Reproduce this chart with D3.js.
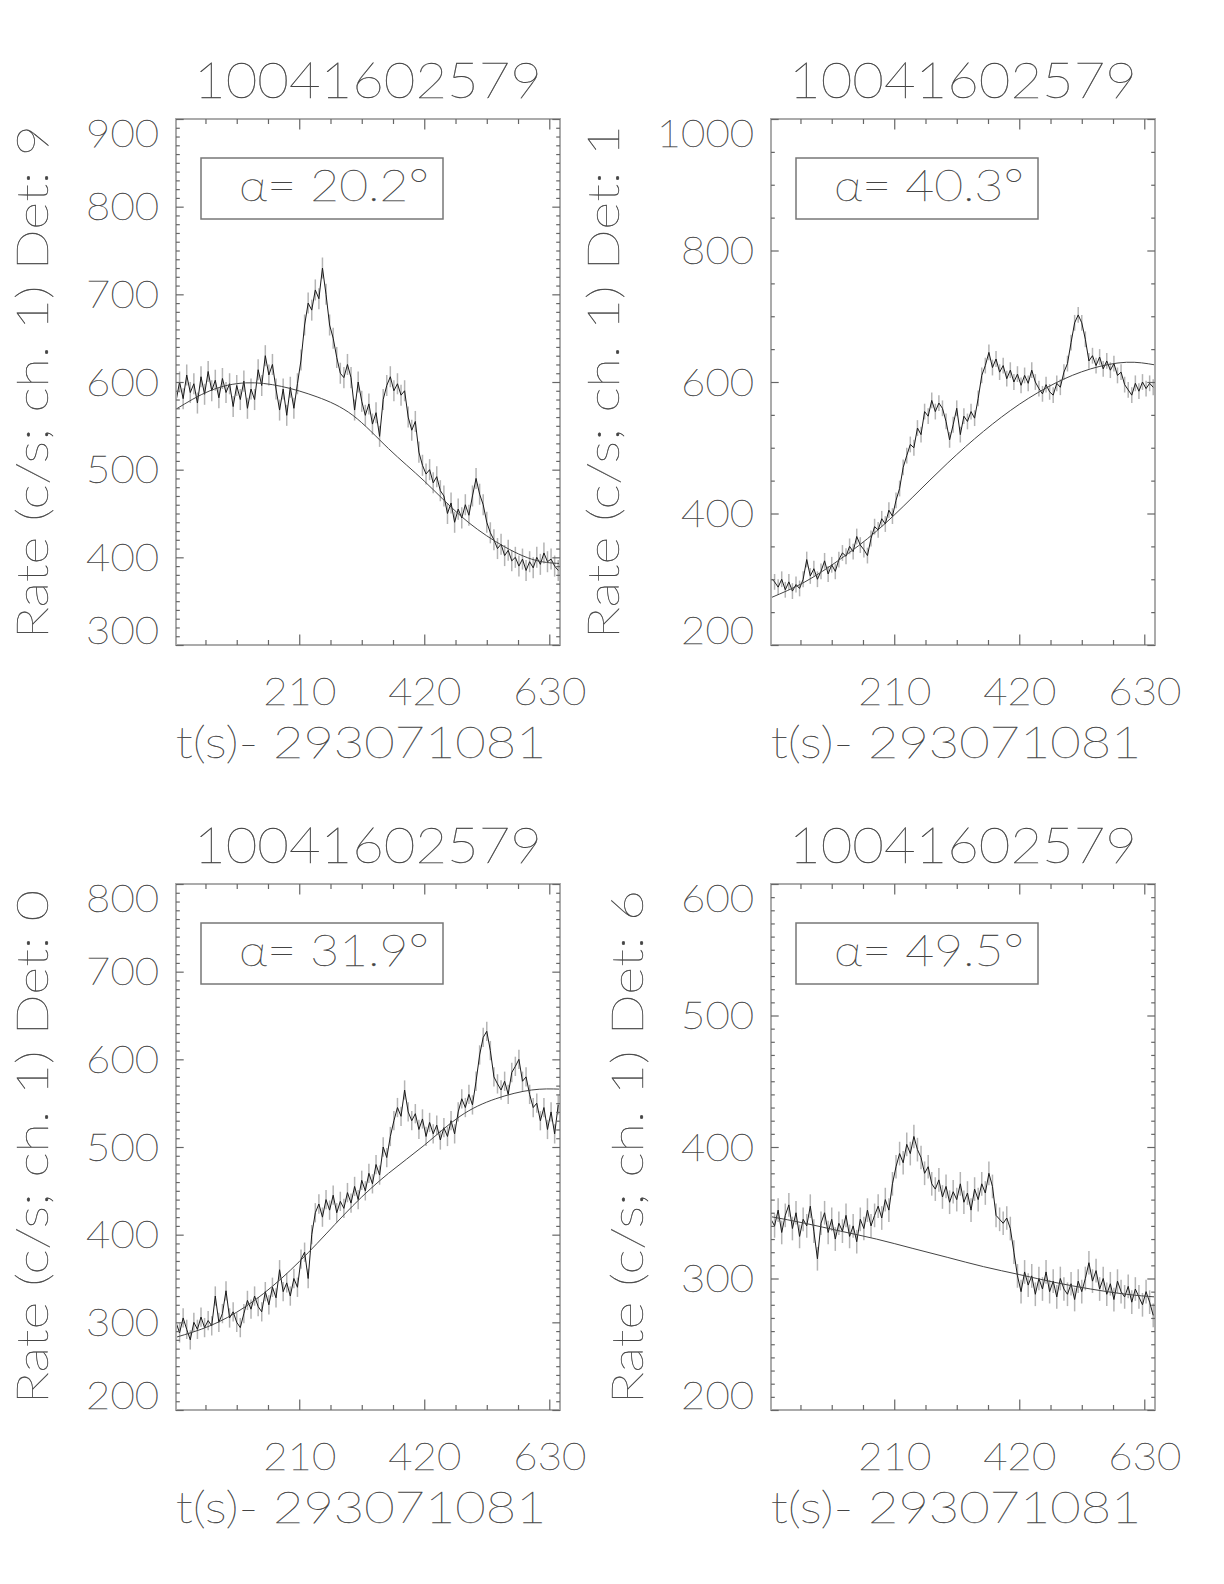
<!DOCTYPE html>
<html>
<head>
<meta charset="utf-8">
<script src="https://cdn.jsdelivr.net/npm/d3@7"></script>
<style>
  body { margin: 0; background: #fff; }
  svg { -webkit-font-smoothing: antialiased; }
  text { font-family: "Lato", "Roboto", "Inter", sans-serif; font-weight: 200; fill: #444; stroke: #444; stroke-width: 0.35px; }
</style>
</head>
<body>
<script>
// ---- data ----
var obsId = "10041602579";
var tRef = "293071081";
var detNames = ["9", "1", "0", "6"];
var alphaDeg = ["20.2", "40.3", "31.9", "49.5"];
var yDomains = [[300, 900], [200, 1000], [200, 800], [200, 600]];
var yMajorStep = [100, 200, 100, 100];
var yMinorStep = [10, 50, 10, 10];
var xDomain = [3, 648];
var xMajorTicks = [210, 420, 630];
var xMinorTicks = [52.5, 105, 157.5, 262.5, 315, 367.5, 472.5, 525, 577.5];

// 6 s bins, centres 3 .. 645
var tBin = d3.range(3, 648, 6);

var rate9 = [578, 600, 581, 608, 588, 598, 576, 606, 586, 612, 590, 602,
  582, 604, 588, 598, 572, 596, 580, 601, 570, 592, 580, 614,
  596, 630, 608, 620, 592, 568, 592, 562, 594, 570, 598, 625,
  665, 690, 682, 705, 695, 730, 700, 665, 650, 628, 610, 605,
  620, 605, 568, 600, 578, 562, 575, 552, 565, 538, 580, 596,
  606, 590, 598, 585, 590, 560, 545, 555, 520, 505, 495, 500,
  485, 492, 476, 470, 450, 462, 440, 455, 445, 460, 448, 470,
  490, 472, 460, 440, 428, 420, 410, 415, 402, 408, 396, 400,
  390, 398, 385, 395, 388, 400, 392, 405, 395, 398, 390, 385];

var rate1 = [302, 296, 288, 300, 284, 296, 282, 292, 286, 300, 330, 305,
  316, 300, 312, 328, 308, 322, 312, 330, 340, 335, 350, 342,
  365, 352, 345, 336, 362, 380, 375, 392, 384, 405, 396, 420,
  438, 470, 488, 505, 500, 530, 520, 555, 548, 572, 555, 568,
  560, 540, 512, 535, 560, 520, 548, 540, 555, 545, 575, 610,
  625, 645, 622, 635, 615, 625, 605, 618, 600, 612, 595, 610,
  598, 618, 600, 590, 582, 596, 585, 580, 598, 592, 615, 628,
  660, 690, 702, 690, 665, 632, 640, 625, 638, 620, 632, 618,
  628, 610, 615, 596, 588, 580, 598, 586, 600, 590, 598, 592];

var rate0 = [300, 288, 305, 292, 280, 300, 292, 306, 294, 302, 296, 330,
  300, 310, 336, 305, 312, 300, 294, 310, 325, 315, 330, 318,
  312, 335, 320, 340, 328, 360, 335, 345, 330, 350, 340, 372,
  380, 350, 400, 425, 435, 420, 440, 428, 445, 425, 438, 430,
  448, 436, 455, 440, 462, 450, 470, 458, 480, 468, 500, 488,
  512, 530, 545, 535, 565, 540, 530, 538, 520, 532, 512, 528,
  515, 525, 508, 522, 512, 530, 515, 540, 555, 545, 560, 548,
  575, 605, 625, 632, 610, 580, 572, 565, 575, 560, 585, 592,
  600, 575, 580, 560, 545, 550, 530, 545, 520, 540, 515, 548];

var rate6 = [345, 340, 352, 335, 348, 356, 338, 350, 332, 345, 340, 355,
  336, 315, 342, 350, 335, 345, 330, 342, 336, 348, 332, 340,
  328, 345, 338, 352, 340, 348, 355, 346, 360, 352, 372, 385,
  395, 388, 402, 395, 408, 398, 392, 380, 385, 372, 368, 375,
  362, 370, 358, 366, 360, 372, 358, 365, 352, 368, 360, 372,
  365, 380, 370, 348, 345, 342, 346, 338, 320, 302, 290, 305,
  295, 302, 288, 300, 292, 305, 290, 298, 286, 300, 292, 288,
  296, 284, 298, 290, 300, 312, 298, 306, 292, 300, 288, 296,
  284, 298, 290, 286, 294, 282, 292, 286, 280, 290, 282, 272];

var rateErr = [12, 12, 11, 9];

// fitted modulation curve, read at a few times
var modelT = [3, 60, 120, 180, 240, 300, 360, 420, 480, 540, 600, 648];
var model9 = [569, 590, 599, 595, 583, 562, 524, 487, 448, 418, 398, 393];
var model1 = [272, 296, 331, 373, 424, 477, 525, 566, 598, 620, 630, 626];
var model0 = [283, 296, 318, 350, 390, 433, 470, 502, 535, 555, 565, 566];
var model6 = [347, 342, 336, 330, 323, 316, 309, 303, 297, 292, 288, 286];

var rates = [rate9, rate1, rate0, rate6];
var models = [model9, model1, model0, model6];

// ---- layout ----
var plotW = 384, plotH = 526;
var panelLeft = [176, 771, 176, 771];
var panelTop = [119, 119, 884, 884];
var charW = 24.3;

var svg = d3.select("body").append("svg")
    .attr("width", 1224)
    .attr("height", 1584);

rates.forEach(function (rate, p) {
    var g = svg.append("g")
        .attr("transform", "translate(" + panelLeft[p] + "," + panelTop[p] + ")");

    var x = d3.scaleLinear().domain(xDomain).range([0, plotW]);
    var y = d3.scaleLinear().domain(yDomains[p]).range([plotH, 0]);

    var yMajors = d3.range(yDomains[p][0], yDomains[p][1] + 1, yMajorStep[p]);
    var yMinors = d3.range(yDomains[p][0], yDomains[p][1], yMinorStep[p])
        .filter(function (v) { return v % yMajorStep[p] !== 0; });

    g.append("clipPath").attr("id", "clip" + p)
        .append("rect").attr("width", plotW).attr("height", plotH);

    // error bars
    g.append("g").attr("clip-path", "url(#clip" + p + ")")
        .selectAll("line")
        .data(rate)
        .join("line")
        .attr("x1", function (d, i) { return x(tBin[i]); })
        .attr("x2", function (d, i) { return x(tBin[i]); })
        .attr("y1", function (d) { return y(d - rateErr[p]); })
        .attr("y2", function (d) { return y(d + rateErr[p]); })
        .attr("stroke", "#b4b4b4")
        .attr("stroke-width", 1.5);

    // light curve
    g.append("path")
        .attr("clip-path", "url(#clip" + p + ")")
        .datum(rate)
        .attr("fill", "none")
        .attr("stroke", "#1a1a1a")
        .attr("stroke-width", 1)
        .attr("d", d3.line()
            .x(function (d, i) { return x(tBin[i]); })
            .y(function (d) { return y(d); }));

    // model curve
    g.append("path")
        .attr("clip-path", "url(#clip" + p + ")")
        .datum(models[p])
        .attr("fill", "none")
        .attr("stroke", "#444")
        .attr("stroke-width", 1)
        .attr("d", d3.line()
            .curve(d3.curveNatural)
            .x(function (d, i) { return x(modelT[i]); })
            .y(function (d) { return y(d); }));

    // frame
    g.append("rect")
        .attr("width", plotW).attr("height", plotH)
        .attr("fill", "none")
        .attr("stroke", "#ababab")
        .attr("stroke-width", 2);

    // ticks on all four sides, pointing inward
    function ticks(axis, vals, size, tr) {
        var a = g.append("g").attr("transform", tr || null)
            .call(axis.tickValues(vals).tickSize(-size).tickFormat(""));
        a.select(".domain").remove();
        a.selectAll("line").attr("stroke", "#666").attr("stroke-width", 1.2);
        return a;
    }
    ticks(d3.axisBottom(x), xMajorTicks, 10.5, "translate(0," + plotH + ")");
    ticks(d3.axisBottom(x), xMinorTicks, 5, "translate(0," + plotH + ")");
    ticks(d3.axisTop(x), xMajorTicks, 10.5);
    ticks(d3.axisTop(x), xMinorTicks, 5);
    ticks(d3.axisLeft(y), yMajors, 7.7);
    ticks(d3.axisLeft(y), yMinors, 3.8);
    ticks(d3.axisRight(y), yMajors, 7.7, "translate(" + plotW + ",0)");
    ticks(d3.axisRight(y), yMinors, 3.8, "translate(" + plotW + ",0)");

    // y tick labels (end labels kept inside the frame height, as IDL does)
    var yl = g.append("g")
        .call(d3.axisLeft(y).tickValues(yMajors).tickSize(0).tickPadding(17)
            .tickFormat(d3.format("d")));
    yl.select(".domain").remove();
    yl.selectAll("text")
        .attr("font-size", 37)
        .attr("dy", "0.36em")
        .attr("y", function (d) {
            var c = Math.min(Math.max(y(d), 14), plotH - 15);
            return c - y(d);
        })
        .attr("textLength", function (d) { return String(d).length * charW; })
        .attr("lengthAdjust", "spacingAndGlyphs");

    // x tick labels
    var xl = g.append("g").attr("transform", "translate(0," + plotH + ")")
        .call(d3.axisBottom(x).tickValues(xMajorTicks).tickSize(0)
            .tickFormat(d3.format("d")));
    xl.select(".domain").remove();
    xl.selectAll("text")
        .attr("font-size", 38)
        .attr("y", 60)
        .attr("dy", 0)
        .attr("textLength", function (d) { return String(d).length * charW; })
        .attr("lengthAdjust", "spacingAndGlyphs");

    // titles
    g.append("text")
        .attr("x", plotW / 2)
        .attr("y", -21)
        .attr("text-anchor", "middle")
        .attr("font-size", 50)
        .attr("textLength", 348)
        .attr("lengthAdjust", "spacingAndGlyphs")
        .text(obsId);

    g.append("text")
        .attr("x", 185)
        .attr("y", plotH + 113)
        .attr("text-anchor", "middle")
        .attr("font-size", 43)
        .attr("textLength", 371)
        .attr("lengthAdjust", "spacingAndGlyphs")
        .text("t(s)- " + tRef);

    var maxLab = d3.max(yMajors, function (d) { return String(d).length; });
    var ytx = -17 - maxLab * charW - 38;
    g.append("text")
        .attr("transform", "translate(" + ytx + "," + (plotH / 2) + ") rotate(-90)")
        .attr("text-anchor", "middle")
        .attr("font-size", 43)
        .attr("textLength", 514)
        .attr("lengthAdjust", "spacingAndGlyphs")
        .text("Rate (c/s; ch. 1) Det: " + detNames[p]);

    // angle box
    g.append("rect")
        .attr("x", 25).attr("y", 39)
        .attr("width", 242).attr("height", 61)
        .attr("fill", "none")
        .attr("stroke", "#777")
        .attr("stroke-width", 1.5);
    g.append("text")
        .attr("x", 63)
        .attr("y", 82)
        .attr("font-size", 44)
        .attr("textLength", 190)
        .attr("lengthAdjust", "spacingAndGlyphs")
        .text("\u03b1= " + alphaDeg[p] + "\u00b0");
});
</script>
</body>
</html>
